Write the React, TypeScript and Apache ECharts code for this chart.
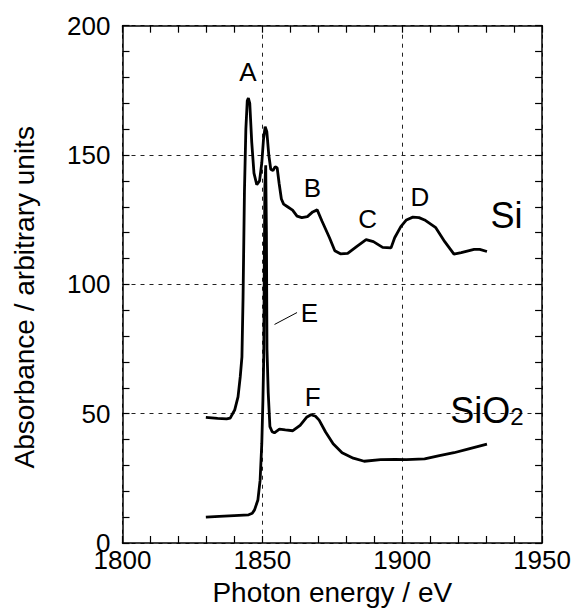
import React, { useEffect, useRef } from "react";
import * as echarts from "echarts";

// Photon energy (eV), absorbance (arb. units)
const siCurve: [number, number][] = [
  [1829.8, 48.6], [1834, 48.2], [1837.2, 48.0], [1838.5, 48.3], [1840.1, 51.4], [1841.3, 56.5],
  [1842.1, 64.3], [1842.7, 72], [1843.1, 95], [1843.6, 136], [1844.1, 160], [1844.6, 171],
  [1845.0, 172], [1845.5, 170], [1846.2, 155], [1847.0, 143], [1848.0, 138.5], [1849.0, 140],
  [1849.8, 147], [1850.4, 156], [1851.0, 161], [1851.6, 159], [1852.3, 150], [1853.0, 144.5],
  [1853.8, 144], [1854.6, 145.5], [1855.3, 145], [1856.0, 139], [1856.8, 133], [1857.6, 131],
  [1859, 130], [1860.8, 128.7], [1862.4, 126.4], [1864.1, 125.8], [1866.1, 126.2], [1868.0, 128],
  [1869.6, 128.8], [1871.3, 124.5], [1874, 118], [1875.9, 113], [1877.9, 111.8], [1880.5, 112],
  [1883.8, 114.7], [1887.1, 117.3], [1889.7, 116.5], [1893, 114.3], [1896, 114.1], [1897.3, 118],
  [1899.5, 122.3], [1901.5, 124.9], [1903.8, 126], [1906, 125.8], [1908, 124.9], [1912, 121.9],
  [1915.2, 116.5], [1918.5, 111.7], [1921.1, 112.3], [1925.7, 113.5], [1927.7, 113.5], [1930.3, 112.7],
];

const sio2Curve: [number, number][] = [
  [1829.8, 10.0], [1834.6, 10.3], [1839.9, 10.6], [1845.1, 10.9], [1846.4, 11.5], [1847.2, 12.8],
  [1848.4, 16.6], [1849.2, 24.3], [1849.8, 38.5], [1850.2, 55.3], [1850.5, 72], [1850.7, 110],
  [1850.9, 138], [1851.2, 146], [1851.45, 120], [1851.65, 75], [1852.1, 58], [1852.7, 45],
  [1853.5, 43], [1854.3, 42.6], [1856.1, 44.0], [1858.2, 43.7], [1860.9, 43.4], [1863.5, 45.5],
  [1865.8, 48.6], [1867.4, 49.6], [1869, 49], [1870.3, 47.5], [1872.6, 42.9], [1875.3, 38.4],
  [1878.5, 34.9], [1882.5, 32.8], [1886.4, 31.6], [1892.3, 32.2], [1897.5, 32.3], [1901.5, 32.2],
  [1908, 32.5], [1913.3, 33.8], [1918.5, 34.9], [1923.8, 36.4], [1930.3, 38.2],
];

const peakLabels: { name: string; value: [number, number] }[] = [
  { name: "A", value: [1844.8, 182.0] },
  { name: "B", value: [1867.9, 137.1] },
  { name: "C", value: [1887.6, 125.1] },
  { name: "D", value: [1906.3, 133.8] },
  { name: "E", value: [1866.8, 89.1] },
  { name: "F", value: [1868.0, 56.5] },
];

const sampleLabels: { name: string; value: [number, number] }[] = [
  { name: "Si", value: [1937.3, 126.5] },
  { name: "SiO2", value: [1930.3, 51.4] },
];

const eLeader: [number, number][] = [
  [1854.35, 84.5],
  [1862.4, 89.1],
];

const xTicks = { min: 1800, max: 1950, interval: 50 };
const yTicks = { min: 0, max: 200, interval: 50 };

const FONT = "'Liberation Sans', Arial, Helvetica, sans-serif";

export default function App() {
  const ref = useRef<HTMLDivElement>(null);

  useEffect(() => {
    if (!ref.current) return;
    const chart = echarts.init(ref.current, null, { renderer: "svg" });

    const axisLine = { show: true, onZero: false, lineStyle: { color: "#000", width: 1.5 } };
    const tick = { show: true, inside: true, length: 7, lineStyle: { color: "#000", width: 1.2 } };
    const minor = { show: true, splitNumber: 5, length: 7, lineStyle: { color: "#000", width: 1.2 } };
    const grid = { show: true, lineStyle: { color: "#222", width: 1, type: [4, 5] as any } };
    const plain = (v: number) => String(v);

    chart.setOption({
      animation: false,
      backgroundColor: "#fff",
      grid: { left: 122.5, right: 31, top: 25.7, bottom: 70, containLabel: false },
      xAxis: [
        {
          type: "value",
          position: "bottom",
          ...xTicks,
          axisLine,
          axisTick: tick,
          minorTick: minor,
          splitLine: grid,
          axisLabel: {
            fontSize: 26,
            lineHeight: 18,
            color: "#000",
            fontFamily: FONT,
            margin: 8,
            formatter: plain,
          },
          name: "Photon energy / eV",
          nameLocation: "middle",
          nameGap: 35,
          nameTextStyle: { fontSize: 28, color: "#000", fontFamily: FONT },
        },
        {
          type: "value",
          position: "top",
          ...xTicks,
          axisLine,
          axisTick: tick,
          minorTick: minor,
          splitLine: { show: false },
          axisLabel: { show: false },
        },
      ],
      yAxis: [
        {
          type: "value",
          position: "left",
          ...yTicks,
          axisLine,
          axisTick: tick,
          minorTick: minor,
          splitLine: grid,
          axisLabel: {
            fontSize: 26,
            lineHeight: 18,
            color: "#000",
            fontFamily: FONT,
            margin: 12,
            formatter: plain,
          },
        },
        {
          type: "value",
          position: "right",
          ...yTicks,
          axisLine,
          axisTick: tick,
          minorTick: minor,
          splitLine: { show: false },
          axisLabel: { show: false },
        },
      ],
      graphic: [
        {
          type: "text",
          x: 24.6,
          y: 297.3,
          rotation: Math.PI / 2,
          style: {
            text: "Absorbance / arbitrary units",
            fontSize: 28,
            fontFamily: FONT,
            fill: "#000",
            align: "center",
            verticalAlign: "middle",
          },
        },
      ],
      series: [
        {
          type: "line",
          name: "Si",
          data: siCurve,
          xAxisIndex: 0,
          yAxisIndex: 0,
          showSymbol: false,
          symbol: "none",
          smooth: false,
          lineStyle: { color: "#000", width: 2.8 },
          z: 3,
        },
        {
          type: "line",
          name: "SiO2",
          data: sio2Curve,
          xAxisIndex: 0,
          yAxisIndex: 0,
          showSymbol: false,
          symbol: "none",
          lineStyle: { color: "#000", width: 2.8 },
          z: 3,
        },
        {
          type: "line",
          name: "E leader",
          data: eLeader,
          xAxisIndex: 0,
          yAxisIndex: 0,
          symbol: "none",
          lineStyle: { color: "#000", width: 1 },
          z: 3,
        },
        {
          type: "scatter",
          data: peakLabels,
          symbolSize: 0,
          xAxisIndex: 0,
          yAxisIndex: 0,
          itemStyle: { color: "#000", opacity: 1 },
          label: {
            show: true,
            position: "inside",
            formatter: "{b}",
            fontSize: 26,
            color: "#000",
            opacity: 1,
            fontFamily: FONT,
          },
          z: 4,
        },
        {
          type: "scatter",
          data: sampleLabels,
          symbolSize: 0,
          xAxisIndex: 0,
          yAxisIndex: 0,
          itemStyle: { color: "#000", opacity: 1 },
          label: {
            show: true,
            position: "inside",
            formatter: (p: any) => (p.name === "SiO2" ? "{a|SiO}{b|2}" : "{a|" + p.name + "}"),
            color: "#000",
            opacity: 1,
            fontFamily: FONT,
            rich: {
              a: { fontSize: 36, fontFamily: FONT, color: "#000" },
              b: { fontSize: 24, fontFamily: FONT, color: "#000", verticalAlign: "bottom" },
            },
          },
          z: 4,
        },
      ],
    });

    return () => chart.dispose();
  }, []);

  return (
    <div
      ref={ref}
      style={{ position: "fixed", left: 0, top: 0, width: 574, height: 613, background: "#fff" }}
    />
  );
}
